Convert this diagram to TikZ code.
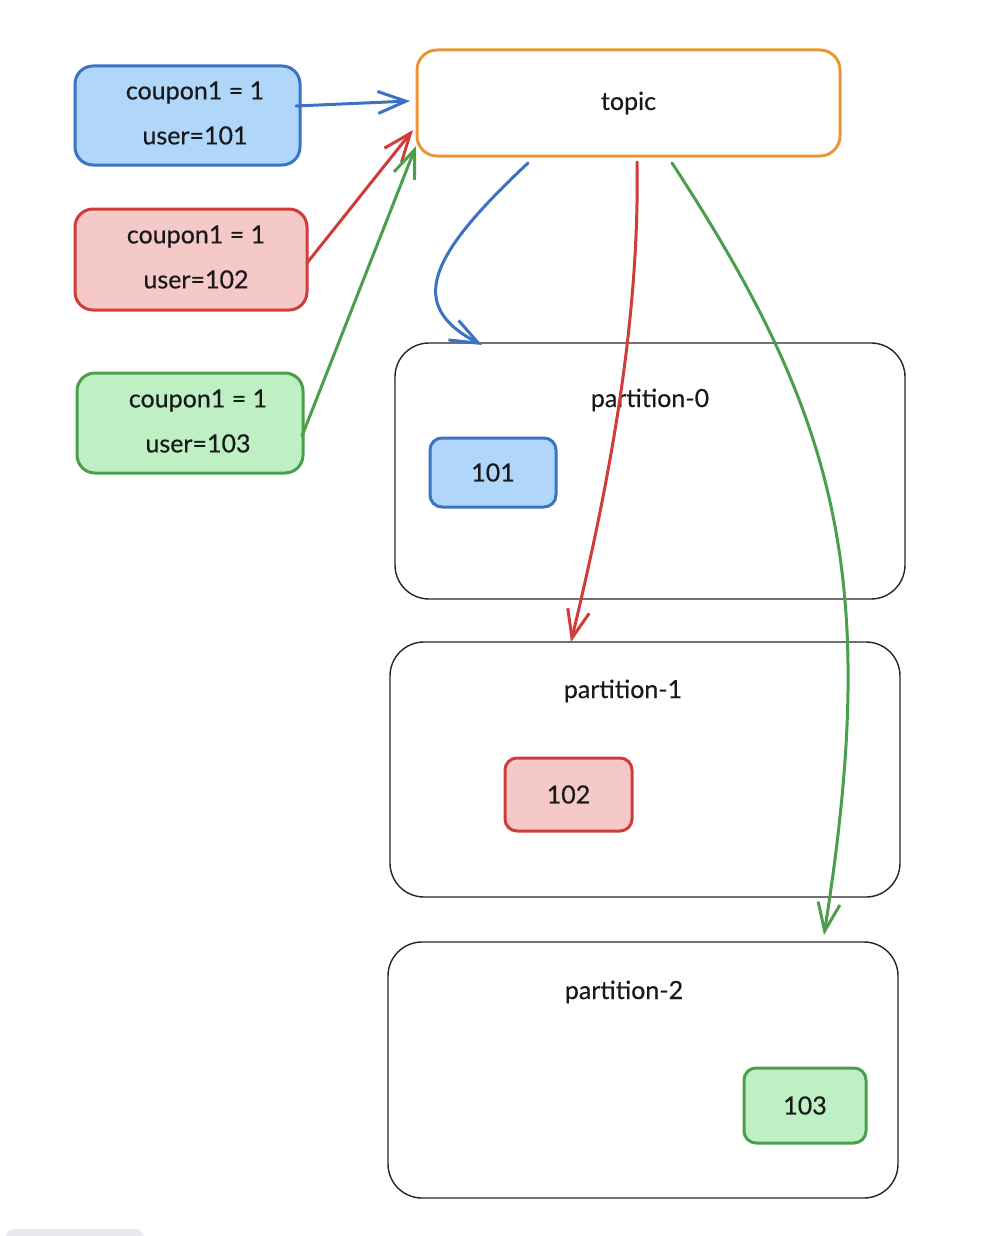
\documentclass[tikz,border=0pt]{standalone}
\usepackage{fontspec}
\setmainfont{Lato}[FakeBold=0.4]
\usetikzlibrary{arrows.meta}
\definecolor{bstroke}{RGB}{58,114,196}
\definecolor{bfill}{RGB}{176,215,250}
\definecolor{rstroke}{RGB}{208,60,56}
\definecolor{rfill}{RGB}{246,201,201}
\definecolor{gstroke}{RGB}{75,158,76}
\definecolor{gfill}{RGB}{190,240,195}
\definecolor{ostroke}{RGB}{232,150,55}
\definecolor{uigray}{RGB}{233,234,240}
\begin{document}
\begin{tikzpicture}[x=1pt,y=-1pt,
  lbl/.style={font=\fontsize{25}{45}\selectfont, text=black!90, align=center},
  cbox/.style={draw, rounded corners=18pt, line width=3pt, inner sep=0pt},
  ibox/.style={lbl, draw, rounded corners=12pt, line width=3pt, inner sep=0pt},
  pbox/.style={draw=black!85, rounded corners=34pt, line width=1.4pt, inner sep=0pt},
  arr/.style={line width=3pt, line cap=round, -{Straight Barb[length=28pt,width=22pt,line width=3pt]}}]
\path[use as bounding box, fill=white] (0,0) rectangle (1000,1236);
\begin{scope}
\clip (0,0) rectangle (1000,1236);
\fill[uigray, rounded corners=10pt] (5,1229) rectangle (145,1260);
\end{scope}

% source boxes
\node[cbox, draw=bstroke, fill=bfill, minimum width=225pt, minimum height=99pt] (s1) at (187.5,115.5) {};
\node[cbox, draw=rstroke, fill=rfill, minimum width=232pt, minimum height=101pt] (s2) at (191,259.5) {};
\node[cbox, draw=gstroke, fill=gfill, minimum width=226pt, minimum height=100pt] (s3) at (190,423) {};
\node[lbl] (s1t) at (195,113) {coupon1 = 1\\user=101};
\node[lbl] (s2t) at (196,257) {coupon1 = 1\\user=102};
\node[lbl] (s3t) at (198,421) {coupon1 = 1\\user=103};

% topic
\node[lbl, draw=ostroke, rounded corners=20pt, line width=3pt, minimum width=423pt, minimum height=106pt] (topic) at (628.5,103) {topic};

% partitions
\node[pbox, minimum width=510pt, minimum height=256pt] (p0) at (650,471) {};
\node[pbox, minimum width=510pt, minimum height=255pt] (p1) at (645,769.5) {};
\node[pbox, minimum width=510pt, minimum height=256pt] (p2) at (643,1070) {};
\node[lbl] (p0l) at (650,400) {partition-0};
\node[lbl] (p1l) at (623,691) {partition-1};
\node[lbl] (p2l) at (624,992) {partition-2};

\node[ibox, draw=bstroke, fill=bfill, minimum width=126pt, minimum height=69pt] (m1) at (493,472.5) {101};
\node[ibox, draw=rstroke, fill=rfill, minimum width=127pt, minimum height=73pt] (m2) at (568.5,794.5) {102};
\node[ibox, draw=gstroke, fill=gfill, minimum width=122pt, minimum height=75pt] (m3) at (805,1105.5) {103};

% connector end points
\coordinate (s1o) at (296,106);
\coordinate (s2o) at (307,263);
\coordinate (s3o) at (302,436);
\coordinate (t1) at (410,101);
\coordinate (t2) at (413,130);
\coordinate (t3) at (416,146);
\coordinate (tb) at (528,163);
\coordinate (tr) at (637,162);
\coordinate (tg) at (672,163);
\coordinate (p0in) at (482,345);
\coordinate (p1in) at (571,642);
\coordinate (p2in) at (824,935);

\draw[arr, bstroke] (s1o) -- (t1);
\draw[arr, rstroke] (s2o) -- (t2);
\draw[arr, gstroke] (s3o) -- (t3);

\draw[arr, bstroke] (tb) .. controls (430,255) and (405,305) .. (p0in);
\draw[arr, rstroke] (tr) .. controls (640,330) and (605,500) .. (p1in);
\draw[arr, gstroke] (tg) .. controls (840,420) and (880,580) .. (p2in);
\end{tikzpicture}
\end{document}
